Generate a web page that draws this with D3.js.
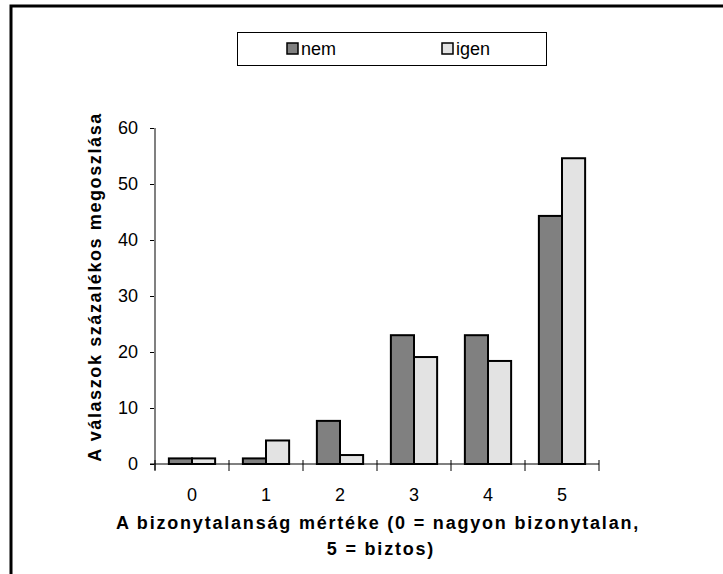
<!DOCTYPE html>
<html>
<head>
<meta charset="utf-8">
<script src="https://cdn.jsdelivr.net/npm/d3@7"></script>
<style>
  body { margin: 0; background: #fff; }
  text { font-family: Arial, "Liberation Sans", sans-serif; }
</style>
</head>
<body>
<div id="chart"></div>
<script>
  // chart data
  var categories = ['0', '1', '2', '3', '4', '5'];
  var seriesNames = ['nem', 'igen'];
  var nemValues = [1, 1, 7.7, 23, 23, 44.3];
  var igenValues = [1, 4.2, 1.6, 19.1, 18.4, 54.6];
  var yTicks = [0, 10, 20, 30, 40, 50, 60];

  var colors = { nem: '#808080', igen: '#e3e3e3' };

  var W = 723, H = 574;
  var plot = { left: 155, right: 599, top: 128, bottom: 464 };

  var svg = d3.select('#chart').append('svg')
    .attr('width', W)
    .attr('height', H);

  // outer frame (cut off on the right and bottom)
  svg.append('path')
    .attr('d', 'M11,' + H + 'V6H' + W)
    .attr('fill', 'none')
    .attr('stroke', '#000')
    .attr('stroke-width', 3);

  var x = d3.scaleBand()
    .domain(categories)
    .range([plot.left, plot.right])
    .paddingInner(0)
    .paddingOuter(0);

  var xInner = d3.scaleBand()
    .domain(seriesNames)
    .range([0, x.bandwidth()])
    .paddingOuter(0.6);

  var y = d3.scaleLinear()
    .domain([0, 60])
    .range([plot.bottom, plot.top]);

  // bars
  var rows = categories.map(function(c, i) {
    return { cat: c, values: [ { key: 'nem', v: nemValues[i] }, { key: 'igen', v: igenValues[i] } ] };
  });

  var groups = svg.append('g').selectAll('g')
    .data(rows)
    .enter().append('g')
    .attr('transform', function(d) { return 'translate(' + x(d.cat) + ',0)'; });

  groups.selectAll('rect')
    .data(function(d) { return d.values; })
    .enter().append('rect')
    .attr('x', function(d) { return xInner(d.key); })
    .attr('y', function(d) { return y(d.v); })
    .attr('width', xInner.bandwidth())
    .attr('height', function(d) { return y(0) - y(d.v); })
    .attr('fill', function(d) { return colors[d.key]; })
    .attr('stroke', '#000')
    .attr('stroke-width', 2);

  // y axis
  var yAxis = svg.append('g')
    .attr('transform', 'translate(' + plot.left + ',0)')
    .call(d3.axisLeft(y).tickValues(yTicks).tickSize(5).tickPadding(12));
  yAxis.select('.domain').remove();
  yAxis.selectAll('line').attr('stroke', '#000');
  yAxis.selectAll('text')
    .attr('font-size', 18)
    .attr('font-family', 'Arial, "Liberation Sans", sans-serif')
    .attr('fill', '#000');
  yAxis.append('line')
    .attr('x1', 0).attr('x2', 0)
    .attr('y1', plot.top).attr('y2', plot.bottom + 6)
    .attr('stroke', '#808080')
    .attr('stroke-width', 2);

  // x axis: ticks between categories
  var boundaries = categories.map(function(c) { return x(c); }).concat([plot.right]);
  var xAxis = svg.append('g');
  xAxis.append('line')
    .attr('x1', plot.left - 5).attr('x2', plot.right)
    .attr('y1', plot.bottom).attr('y2', plot.bottom)
    .attr('stroke', '#000');
  xAxis.selectAll('line.tick')
    .data(boundaries)
    .enter().append('line')
    .attr('class', 'tick')
    .attr('x1', function(d) { return d; })
    .attr('x2', function(d) { return d; })
    .attr('y1', plot.bottom - 4)
    .attr('y2', plot.bottom + 7)
    .attr('stroke', '#000');
  xAxis.selectAll('text')
    .data(categories)
    .enter().append('text')
    .attr('x', function(d) { return x(d) + x.bandwidth() / 2; })
    .attr('y', plot.bottom + 37)
    .attr('text-anchor', 'middle')
    .attr('font-size', 18)
    .text(function(d) { return d; });

  // axis titles
  svg.append('text')
    .attr('x', 378).attr('y', 529)
    .attr('text-anchor', 'middle')
    .attr('font-size', 18).attr('font-weight', 'bold')
    .attr('letter-spacing', 1.8)
    .text('A bizonytalanság mértéke (0 = nagyon bizonytalan,');
  svg.append('text')
    .attr('x', 381).attr('y', 555)
    .attr('text-anchor', 'middle')
    .attr('font-size', 18).attr('font-weight', 'bold')
    .attr('letter-spacing', 1.8)
    .text('5 = biztos)');

  svg.append('text')
    .attr('transform', 'translate(101,287) rotate(-90)')
    .attr('text-anchor', 'middle')
    .attr('font-size', 18).attr('font-weight', 'bold')
    .attr('letter-spacing', 1.6)
    .text('A válaszok százalékos megoszlása');

  // legend
  var legend = svg.append('g');
  legend.append('rect')
    .attr('x', 237.5).attr('y', 32.5)
    .attr('width', 309).attr('height', 33)
    .attr('fill', '#fff')
    .attr('stroke', '#000');
  var legendX = [287, 442];
  seriesNames.forEach(function(name, i) {
    legend.append('rect')
      .attr('x', legendX[i]).attr('y', 43)
      .attr('width', 11).attr('height', 11)
      .attr('fill', colors[name])
      .attr('stroke', '#000')
      .attr('stroke-width', 1.5);
    legend.append('text')
      .attr('x', legendX[i] + 14).attr('y', 55)
      .attr('font-size', 18)
      .text(name);
  });
</script>
</body>
</html>
